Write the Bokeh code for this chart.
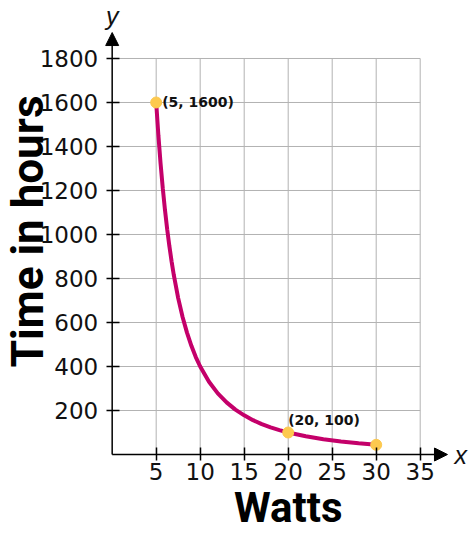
from bokeh.plotting import figure
from bokeh.models import Label, Arrow, NormalHead, Range1d
from bokeh.embed import file_html
from bokeh.resources import INLINE

# Data
watts = [5, 5.25, 5.5, 5.75, 6, 6.25, 6.5, 6.75, 7, 7.5, 8, 8.5, 9, 9.5, 10, 11, 12, 13, 14,
         15, 16, 17, 18, 19, 20, 22, 24, 26, 28, 30]
hours = [1600, 1451, 1322, 1210, 1111, 1024, 947, 878, 816, 711, 625, 554, 494, 443, 400, 331,
         278, 237, 204, 178, 156, 138, 123, 111, 100, 83, 69, 59, 51, 44]
point_watts = [5, 20, 30]
point_hours = [1600, 100, 44]
point_labels = ["(5, 1600)", "(20, 100)", ""]
x_ticks = [5, 10, 15, 20, 25, 30, 35]
y_ticks = [200, 400, 600, 800, 1000, 1200, 1400, 1600, 1800]
x_title = "Watts"
y_title = "Time in hours"

p = figure(width=474, height=534, output_backend="svg", toolbar_location=None,
           title=None, x_range=Range1d(-12.69, 41.17), y_range=Range1d(-363.6, 2063.6),
           min_border=0)
p.outline_line_color = None
p.xgrid.visible = False
p.ygrid.visible = False

grid_color = "#b3b3b3"
p.segment(x0=x_ticks, y0=[0] * len(x_ticks), x1=x_ticks, y1=[y_ticks[-1]] * len(x_ticks),
          line_color=grid_color, line_width=1)
p.segment(x0=[0] * len(y_ticks), y0=y_ticks, x1=[x_ticks[-1]] * len(y_ticks), y1=y_ticks,
          line_color=grid_color, line_width=1)

p.xaxis.fixed_location = 0
p.yaxis.fixed_location = 0
for ax in (p.xaxis, p.yaxis):
    ax.axis_line_color = None
    ax.major_tick_in = 7
    ax.major_tick_out = 6
    ax.major_tick_line_color = "black"
    ax.major_tick_line_width = 1.5
    ax.minor_tick_line_color = None
    ax.major_label_text_font = "DejaVu Sans"
    ax.major_label_text_font_size = "23px"
    ax.major_label_text_color = "#111111"
p.xaxis.ticker = x_ticks
p.yaxis.ticker = y_ticks
p.xaxis.major_label_standoff = 2
p.yaxis.major_label_standoff = 8

# axis arrows
p.add_layout(Arrow(end=NormalHead(size=13, fill_color="black", line_color="black"),
                   x_start=0, y_start=0, x_end=0, y_end=1918,
                   line_color="black", line_width=1.5))
p.add_layout(Arrow(end=NormalHead(size=13, fill_color="black", line_color="black"),
                   x_start=0, y_start=0, x_end=38.1, y_end=0,
                   line_color="black", line_width=1.5))

p.line(watts, hours, line_color="#c4006a", line_width=4)
p.scatter(point_watts, point_hours, size=11, fill_color="#fdc94f", line_color="#fdc94f")

p.add_layout(Label(x=point_watts[0], y=point_hours[0], text=point_labels[0],
                   x_offset=6, text_baseline="middle", text_font="DejaVu Sans",
                   text_font_style="bold", text_font_size="14px", text_color="#111111"))
p.add_layout(Label(x=point_watts[1], y=point_hours[1], text=point_labels[1],
                   x_offset=0, y_offset=13, text_baseline="middle", text_font="DejaVu Sans",
                   text_font_style="bold", text_font_size="14px", text_color="#111111"))

p.add_layout(Label(x=0, y=1995, text="y", text_align="center", text_baseline="middle",
                   text_font="Liberation Sans", text_font_style="italic",
                   text_font_size="25px", text_color="#111111"))
p.add_layout(Label(x=39.6, y=0, text="x", text_align="center", text_baseline="middle",
                   text_font="Liberation Sans", text_font_style="italic",
                   text_font_size="25px", text_color="#111111"))

p.add_layout(Label(x=20, y=-243, text=x_title, text_align="center",
                   text_baseline="middle", text_font="Roboto", text_font_style="bold",
                   text_font_size="42px", text_color="black"))
p.add_layout(Label(x=-9.6, y=1014, text=y_title, angle=1.5708,
                   text_align="center", text_baseline="middle", text_font="Roboto",
                   text_font_style="bold", text_font_size="44px", text_color="black"))

open("out.html", "w").write(file_html(p, INLINE))
